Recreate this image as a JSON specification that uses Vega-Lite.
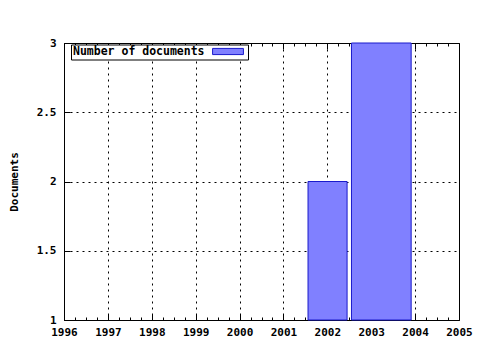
{
  "$schema": "https://vega.github.io/schema/vega-lite/v6.json",
  "width": 395,
  "height": 277,
  "autosize": {"type": "none"},
  "padding": {"left": 64, "top": 43, "right": 21, "bottom": 30},
  "background": "white",
  "config": {
    "view": {"stroke": "black", "strokeWidth": 1},
    "axis": {
      "labelFont": "DejaVu Sans Mono",
      "labelFontWeight": "bold",
      "labelFontSize": 11,
      "labelColor": "black",
      "titleFont": "DejaVu Sans Mono",
      "titleFontWeight": "bold",
      "titleFontSize": 11,
      "titleColor": "black",
      "domainColor": "black",
      "tickColor": "black",
      "gridColor": "black",
      "gridDash": [2, 4],
      "gridWidth": 1
    }
  },
  "data": {
    "values": [
      {"start": 2001.56, "end": 2002.45, "documents": 2, "series": "Number of documents"},
      {"start": 2002.55, "end": 2003.91, "documents": 3, "series": "Number of documents"}
    ]
  },
  "layer": [
    {
      "mark": {"type": "bar", "stroke": "#1a1acc", "strokeWidth": 1, "opacity": 1},
      "encoding": {
        "x": {
          "field": "start",
          "type": "quantitative",
          "scale": {"domain": [1996, 2005], "nice": false, "zero": false},
          "axis": {
            "orient": "bottom",
            "title": null,
            "values": [1996, 1996.25, 1996.5, 1996.75, 1997, 1997.25, 1997.5, 1997.75, 1998, 1998.25, 1998.5, 1998.75, 1999, 1999.25, 1999.5, 1999.75, 2000, 2000.25, 2000.5, 2000.75, 2001, 2001.25, 2001.5, 2001.75, 2002, 2002.25, 2002.5, 2002.75, 2003, 2003.25, 2003.5, 2003.75, 2004, 2004.25, 2004.5, 2004.75, 2005],
            "labelExpr": "datum.value % 1 === 0 ? format(datum.value, 'd') : ''",
            "tickSize": {"expr": "datum.value % 1 === 0 ? -6 : -3"},
            "grid": true,
            "gridOpacity": {"condition": {"test": "datum.value % 1 === 0 && datum.value > 1996 && datum.value < 2005", "value": 1}, "value": 0},
            "labelPadding": 12,
            "labelFlush": false,
            "labelOverlap": false,
            "domain": true
          }
        },
        "x2": {"field": "end"},
        "y": {
          "field": "documents",
          "type": "quantitative",
          "scale": {"domain": [1, 3], "nice": false, "zero": false},
          "axis": {
            "title": "Documents",
            "values": [1, 1.5, 2, 2.5, 3],
            "format": "~g",
            "tickSize": -6,
            "grid": true,
            "gridOpacity": {"condition": {"test": "datum.value > 1 && datum.value < 3", "value": 1}, "value": 0},
            "labelPadding": 14,
            "titlePadding": 17
          }
        },
        "y2": {"datum": 1},
        "color": {
          "field": "series",
          "type": "nominal",
          "scale": {"range": ["#8080ff"]},
          "legend": {
            "orient": "none",
            "legendX": 7,
            "legendY": 1.5,
            "title": "Number of documents",
            "titleOrient": "left",
            "titleFont": "DejaVu Sans Mono",
            "titleFontWeight": "bold",
            "titleFontSize": 11.5,
            "titleColor": "black",
            "titlePadding": 18,
            "titleBaseline": "middle",
            "labelExpr": "''",
            "labelOffset": 13,
            "symbolType": "M-5,-1H5V1H-5Z",
            "symbolSize": 38,
            "symbolStrokeColor": "#1a1acc",
            "symbolStrokeWidth": 1,
            "symbolOpacity": 1,
            "strokeColor": "black",
            "fillColor": "white",
            "padding": 2,
            "cornerRadius": 0
          }
        }
      }
    },
    {
      "mark": {"type": "rule", "opacity": 0},
      "encoding": {
        "x": {
          "field": "start",
          "type": "quantitative",
          "scale": {"domain": [1996, 2005], "nice": false, "zero": false},
          "axis": {
            "orient": "top",
            "title": null,
            "values": [1996, 1996.25, 1996.5, 1996.75, 1997, 1997.25, 1997.5, 1997.75, 1998, 1998.25, 1998.5, 1998.75, 1999, 1999.25, 1999.5, 1999.75, 2000, 2000.25, 2000.5, 2000.75, 2001, 2001.25, 2001.5, 2001.75, 2002, 2002.25, 2002.5, 2002.75, 2003, 2003.25, 2003.5, 2003.75, 2004, 2004.25, 2004.5, 2004.75, 2005],
            "labels": false,
            "tickSize": {"expr": "datum.value % 1 === 0 ? -6 : -3"},
            "grid": false,
            "domain": true
          }
        }
      }
    }
  ],
  "resolve": {"axis": {"x": "independent"}}
}
